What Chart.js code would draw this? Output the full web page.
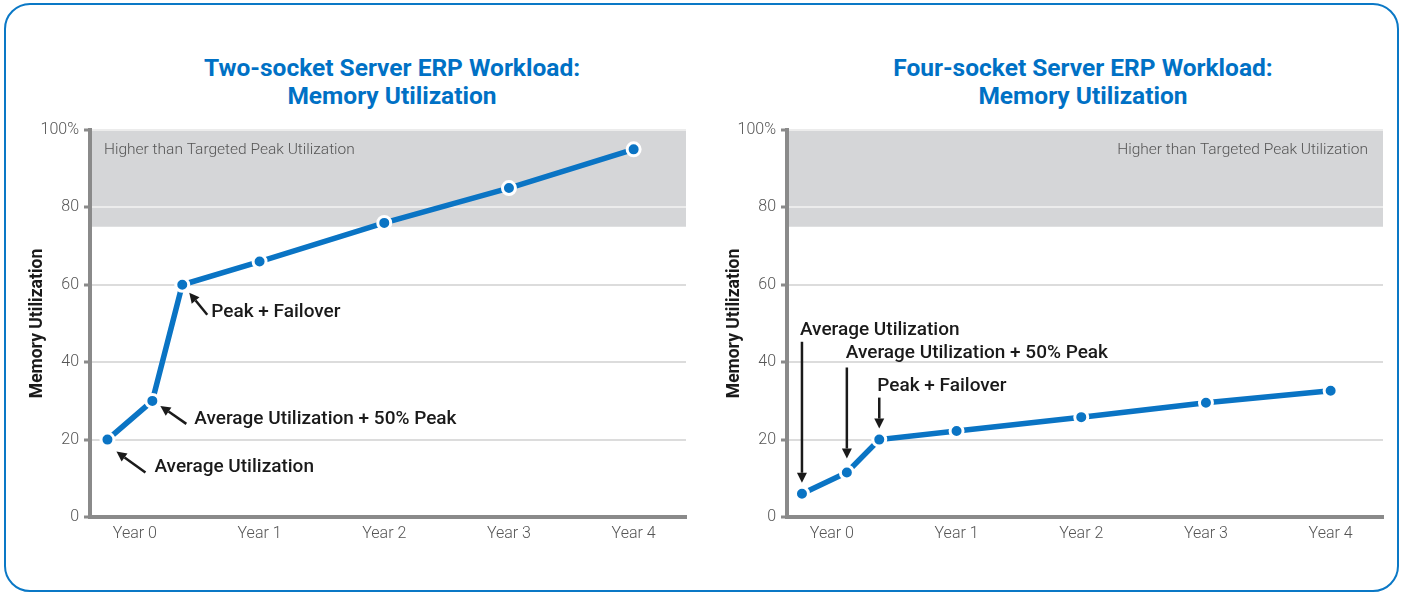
<!DOCTYPE html>
<html>
<head>
<meta charset="utf-8">
<script src="https://cdn.jsdelivr.net/npm/chart.js@4"></script>
<style>
  body { margin: 0; background: #fff; font-family: Roboto, sans-serif; }
  #frame { position: absolute; left: 4px; top: 3px; width: 1395px; height: 589px;
           border: 2.5px solid #0a78c6; border-radius: 26px; box-sizing: border-box; }
  .ttl { position: absolute; top: 54px; width: 596px; text-align: center; color: #0071c5;
         font: 700 24.5px/28px Roboto, sans-serif; }
  .box { position: absolute; top: 110px; }
</style>
</head>
<body>
<div id="frame"></div>
<div class="ttl" style="left:94px">Two-socket Server ERP Workload:<br>Memory Utilization</div>
<div class="ttl" style="left:785px">Four-socket Server ERP Workload:<br>Memory Utilization</div>
<div class="box" style="left:20px"><canvas id="two" width="680" height="446"></canvas></div>
<div class="box" style="left:717px"><canvas id="four" width="680" height="446"></canvas></div>
<script>
// data
const years = [0, 1, 2, 3, 4];
const yTicks = [0, 20, 40, 60, 80, 100];
const twoX = [-0.22, 0.14, 0.38, 1, 2, 3, 4];
const twoY = [20, 30, 60, 66, 76, 85, 95];
const fourX = [-0.24, 0.12, 0.38, 1, 2, 3, 4];
const fourY = [6, 11.5, 20, 22.2, 25.8, 29.5, 32.6];
const bandFrom = 75;
const bandTo = 100;
const bandText = 'Higher than Targeted Peak Utilization';
const noteText = ['Average Utilization', 'Average Utilization + 50% Peak', 'Peak + Failover'];

const blue = '#0a74c4';
const tickFont = { family: 'Roboto', weight: 300, size: 16 };

function arrow(ctx, x1, y1, x2, y2) {
  const ang = Math.atan2(y2 - y1, x2 - x1);
  const len = 10, w = 5;
  const bx = x2 - Math.cos(ang) * len, by = y2 - Math.sin(ang) * len;
  ctx.beginPath();
  ctx.moveTo(x1, y1);
  ctx.lineTo(bx, by);
  ctx.stroke();
  ctx.beginPath();
  ctx.moveTo(x2, y2);
  ctx.lineTo(bx + Math.sin(ang) * w, by - Math.cos(ang) * w);
  ctx.lineTo(bx - Math.sin(ang) * w, by + Math.cos(ang) * w);
  ctx.closePath();
  ctx.fill();
}

const decor = {
  id: 'decor',
  beforeDraw(chart, args, opts) {
    const { ctx, chartArea: a, scales: { y } } = chart;
    const top = y.getPixelForValue(bandTo), bot = y.getPixelForValue(bandFrom);
    ctx.save();
    ctx.fillStyle = '#d5d6d8';
    ctx.fillRect(a.left, top, a.right - a.left, bot - top);
    ctx.font = '300 15.5px Roboto';
    ctx.fillStyle = '#555';
    ctx.textBaseline = 'middle';
    ctx.textAlign = opts.bandAlign;
    const tx = opts.bandAlign === 'left' ? a.left + 14 : a.right - 15;
    ctx.fillText(bandText, tx, top + 20);
    ctx.restore();
  },
  afterDatasetsDraw(chart, args, opts) {
    const ctx = chart.ctx;
    const pts = chart.getDatasetMeta(0).data;
    ctx.save();
    ctx.strokeStyle = '#1a1a1a';
    ctx.fillStyle = '#1a1a1a';
    ctx.lineWidth = 2.5;
    ctx.font = '500 19px Roboto';
    ctx.textBaseline = 'middle';
    ctx.textAlign = 'left';
    opts.notes.forEach((n, i) => {
      const p = pts[i];
      arrow(ctx, p.x + n.tail[0], p.y + n.tail[1], p.x + n.head[0], p.y + n.head[1]);
      ctx.fillText(noteText[i], p.x + n.text[0], p.y + n.text[1]);
    });
    ctx.restore();
  }
};

function makeChart(id, xs, ys, bandAlign, notes) {
  const points = xs.map((x, i) => ({ x: x, y: ys[i] }));
  new Chart(document.getElementById(id), {
    type: 'line',
    data: {
      datasets: [{
        data: points,
        borderColor: blue,
        borderWidth: 5.5,
        pointRadius: 6.5,
        pointBackgroundColor: blue,
        pointBorderColor: '#fff',
        pointBorderWidth: 3,
        tension: 0,
        clip: false
      }]
    },
    options: {
      responsive: false,
      animation: false,
      devicePixelRatio: 1,
      layout: { padding: { top: 20, right: 14, left: 0, bottom: 0 } },
      plugins: {
        legend: { display: false },
        tooltip: { enabled: false },
        decor: { bandAlign: bandAlign, notes: notes }
      },
      scales: {
        x: {
          type: 'linear',
          min: -0.36,
          max: 4.42,
          afterBuildTicks: s => { s.ticks = years.map(v => ({ value: v })); },
          afterFit: s => { s.height = 39; },
          grid: { drawOnChartArea: false, drawTicks: false },
          border: { color: '#8a8a8a', width: 4 },
          ticks: { callback: v => 'Year ' + v, color: '#555', font: tickFont,
                   padding: 7, maxRotation: 0, autoSkip: false }
        },
        y: {
          min: 0,
          max: 100,
          afterBuildTicks: s => { s.ticks = yTicks.map(v => ({ value: v })); },
          afterFit: s => { s.width = 70; },
          grid: {
            color: c => (c.tick && c.tick.value >= bandFrom) ? '#ececec' : '#dcdcdc',
            lineWidth: 2, tickLength: 6, tickColor: '#8a8a8a', tickWidth: 3
          },
          border: { color: '#8a8a8a', width: 4 },
          ticks: { callback: v => v === 100 ? '100%' : v, color: '#555', font: tickFont, padding: 5 },
          title: { display: true, text: 'Memory Utilization', color: '#1a1a1a',
                   font: { family: 'Roboto', weight: 'bold', size: 17.5 }, padding: { top: 7, bottom: 0 } }
        }
      }
    },
    plugins: [decor]
  });
}

makeChart('two', twoX, twoY, 'left', [
  { head: [9, 12], tail: [38, 33], text: [47, 28] },
  { head: [8, 5], tail: [34, 23], text: [42, 18] },
  { head: [7, 8], tail: [25, 30], text: [29, 27] }
]);
makeChart('four', fourX, fourY, 'right', [
  { head: [0, -11], tail: [0, -152], text: [-2, -164] },
  { head: [0, -14], tail: [0, -105], text: [-1, -119] },
  { head: [0, -11], tail: [0, -42], text: [-2, -53] }
]);
</script>
</body>
</html>
